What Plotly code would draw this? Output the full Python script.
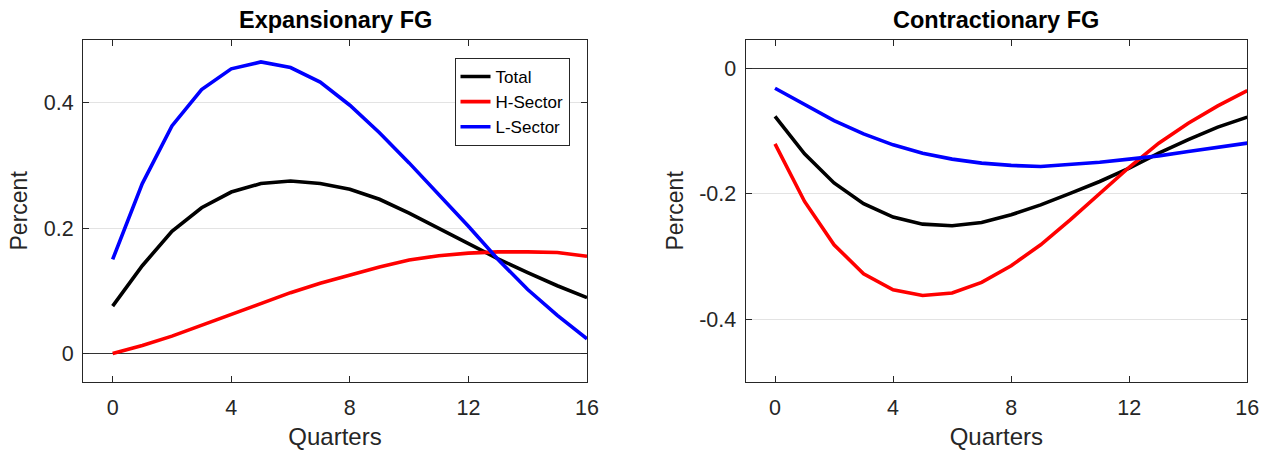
import plotly.graph_objects as go

quarters = list(range(17))

exp_total = [0.0755, 0.140, 0.195, 0.2325, 0.2575, 0.271, 0.275, 0.271, 0.262, 0.246, 0.224,
             0.200, 0.175, 0.151, 0.129, 0.108, 0.089]
exp_h = [0.0, 0.0128, 0.0277, 0.0447, 0.062, 0.0798, 0.097, 0.112, 0.125, 0.138, 0.149,
         0.156, 0.160, 0.162, 0.162, 0.161, 0.155]
exp_l = [0.150, 0.271, 0.363, 0.421, 0.454, 0.465, 0.456, 0.433, 0.396, 0.352, 0.304,
         0.254, 0.203, 0.150, 0.102, 0.0607, 0.0234]

con_total = [-0.077, -0.1366, -0.183, -0.216, -0.2375, -0.2487, -0.2513, -0.246, -0.2338,
             -0.218, -0.1997, -0.1807, -0.1594, -0.1355, -0.114, -0.094, -0.078]
con_h = [-0.1206, -0.2125, -0.2816, -0.3278, -0.3533, -0.3624, -0.3586, -0.3416, -0.315,
         -0.2816, -0.2418, -0.199, -0.158, -0.1195, -0.0877, -0.060, -0.0357]
con_l = [-0.032, -0.0585, -0.0835, -0.1047, -0.1222, -0.1355, -0.145, -0.1514, -0.155,
         -0.1568, -0.154, -0.150, -0.145, -0.1398, -0.1329, -0.1259, -0.1195]

series_names = ["Total", "H-Sector", "L-Sector"]
series_colors = ["#000000", "#ff0000", "#0000ff"]
titles = ["Expansionary FG", "Contractionary FG"]
x_ticks = [0, 4, 8, 12, 16]
left_yticks = [0, 0.2, 0.4]
left_yticklabels = ["0", "0.2", "0.4"]
right_yticks = [0, -0.2, -0.4]
right_yticklabels = ["0", "-0.2", "-0.4"]

W, H = 1262, 450
FONT = "Liberation Sans, Arial, Helvetica, sans-serif"
AX = "#262626"

fig = go.Figure()

for vals, name, col in zip([exp_total, exp_h, exp_l], series_names, series_colors):
    fig.add_trace(go.Scatter(x=quarters, y=vals, mode="lines", name=name,
                             line=dict(color=col, width=3.6), xaxis="x", yaxis="y"))
for vals, name, col in zip([con_total, con_h, con_l], series_names, series_colors):
    fig.add_trace(go.Scatter(x=quarters, y=vals, mode="lines", name=name, showlegend=False,
                             line=dict(color=col, width=3.6), xaxis="x2", yaxis="y2"))

ydom = [1 - 381.7 / H, 1 - 40 / H]
xdom1 = [83 / W, 587 / W]
xdom2 = [745.5 / W, 1247.3 / W]

common_x = dict(range=[-1, 16], tickvals=x_ticks, ticks="inside", ticklen=6, tickcolor=AX,
                showline=True, linecolor=AX, linewidth=1, mirror="ticks", showgrid=False,
                zeroline=False, tickfont=dict(family=FONT, size=21.5, color=AX),
                ticklabelstandoff=6, automargin=False,
                title=dict(text="Quarters", font=dict(family=FONT, size=24, color=AX), standoff=11))
common_y = dict(ticks="inside", ticklen=6, tickcolor=AX, showline=True, linecolor=AX,
                linewidth=1, mirror="ticks", showgrid=True, gridcolor="#e3e3e3", gridwidth=1,
                zeroline=True, zerolinecolor="#333333", zerolinewidth=1,
                tickfont=dict(family=FONT, size=21.5, color=AX), ticklabelstandoff=4,
                automargin=False,
                title=dict(text="Percent", font=dict(family=FONT, size=23, color=AX), standoff=9))

fig.update_layout(
    width=W, height=H,
    autosize=False,
    margin=dict(l=0, r=0, t=0, b=0),
    paper_bgcolor="white", plot_bgcolor="white",
    xaxis=dict(domain=xdom1, anchor="y", **common_x),
    yaxis=dict(domain=ydom, anchor="x", range=[-0.045, 0.5], tickvals=left_yticks,
               ticktext=left_yticklabels, **common_y),
    xaxis2=dict(domain=xdom2, anchor="y2", **common_x),
    yaxis2=dict(domain=ydom, anchor="x2", range=[-0.5, 0.045], tickvals=right_yticks,
                ticktext=right_yticklabels, **common_y),
    legend=dict(x=569.5 / W, y=1 - 58 / H, xanchor="right", yanchor="top",
                bgcolor="white", bordercolor=AX, borderwidth=1,
                font=dict(family=FONT, size=17, color="#000000"),
                itemwidth=30, tracegroupgap=0),
    showlegend=True,
)

for title, dom in zip(titles, [xdom1, xdom2]):
    fig.add_annotation(text="<b>" + title + "</b>", x=(dom[0] + dom[1]) / 2, y=1 - 35 / H,
                       xref="paper", yref="paper", xanchor="center", yanchor="bottom",
                       showarrow=False, font=dict(family=FONT, size=23.5, color="#000000"))

fig.write_html("out.html")
